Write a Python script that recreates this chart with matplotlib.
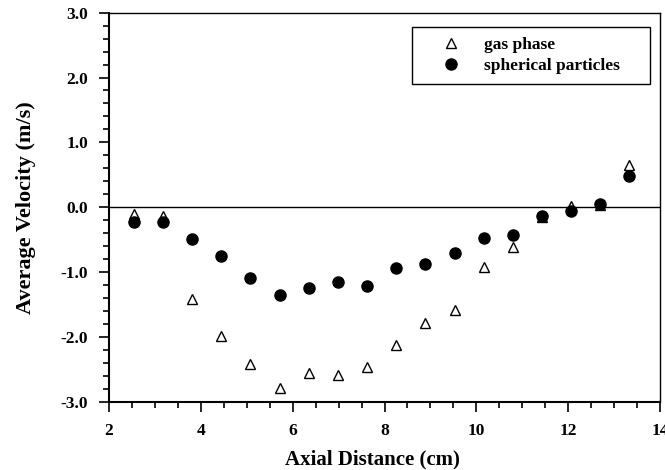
import matplotlib
matplotlib.use("Agg")
import matplotlib.pyplot as plt
from matplotlib.ticker import MultipleLocator

axial_distance = [2.54, 3.175, 3.81, 4.445, 5.08, 5.715, 6.35, 6.985, 7.62,
                  8.255, 8.89, 9.525, 10.16, 10.795, 11.43, 12.065, 12.7, 13.335]
gas_phase = [-0.10, -0.14, -1.42, -1.99, -2.42, -2.79, -2.56, -2.59, -2.46,
             -2.13, -1.79, -1.58, -0.93, -0.62, -0.15, 0.015, 0.04, 0.65]
spherical_particles = [-0.23, -0.23, -0.49, -0.76, -1.085, -1.35, -1.24, -1.16, -1.22,
                       -0.94, -0.87, -0.70, -0.47, -0.43, -0.14, -0.066, 0.057, 0.48]
x_ticks = [2, 4, 6, 8, 10, 12, 14]
y_ticks = [-3.0, -2.0, -1.0, 0.0, 1.0, 2.0, 3.0]

plt.rcParams['font.family'] = ['Liberation Serif', 'DejaVu Serif']
plt.rcParams['font.weight'] = 'bold'

fig = plt.figure(figsize=(6.65, 4.7), dpi=100)
ax = fig.add_axes([0.164, 0.1453, 0.8285, 0.8277])

ax.axhline(0, color='black', linewidth=1.0, zorder=1)
ax.plot(axial_distance, gas_phase, linestyle='none', marker='^', markersize=7.5,
        markerfacecolor='white', markeredgecolor='black', markeredgewidth=1.0,
        label='gas phase', zorder=3)
ax.plot(axial_distance, spherical_particles, linestyle='none', marker='o', markersize=8,
        markerfacecolor='black', markeredgecolor='black', label='spherical particles', zorder=3)

ax.set_xlim(2, 14)
ax.set_ylim(-3, 3)
ax.set_xticks(x_ticks)
ax.set_yticks(y_ticks)
ax.set_xticklabels([str(v) for v in x_ticks])
ax.set_yticklabels([f"{v:.1f}" for v in y_ticks])
ax.xaxis.set_minor_locator(MultipleLocator(0.5))
ax.yaxis.set_minor_locator(MultipleLocator(0.2))
ax.tick_params(axis='both', which='major', direction='out', length=7, width=1.2,
               labelsize=12.5, pad=8)
ax.tick_params(axis='both', which='minor', direction='out', length=4, width=1.2)
for lab in ax.get_xticklabels() + ax.get_yticklabels():
    lab.set_fontweight('bold')

ax.spines['left'].set_linewidth(1.5)
ax.spines['bottom'].set_linewidth(1.5)
ax.spines['top'].set_linewidth(1.0)
ax.spines['right'].set_linewidth(1.0)

ax.set_xlabel('Axial Distance (cm)', fontsize=15, fontweight='bold', labelpad=8)
ax.xaxis.set_label_coords(0.478, -0.122)
ax.set_ylabel('Average Velocity (m/s)', fontsize=16, fontweight='bold', labelpad=18)

leg = ax.legend(loc='upper left', bbox_to_anchor=(0.55, 0.963, 0.432, 0.0), mode='expand',
                borderaxespad=0, fancybox=False, edgecolor='black', framealpha=1,
                prop={'weight': 'bold', 'size': 12.5}, borderpad=0.55,
                handlelength=3.4, handletextpad=0.2, labelspacing=0.3)
leg.get_frame().set_linewidth(1.0)

fig.savefig('out.png', dpi=100)
